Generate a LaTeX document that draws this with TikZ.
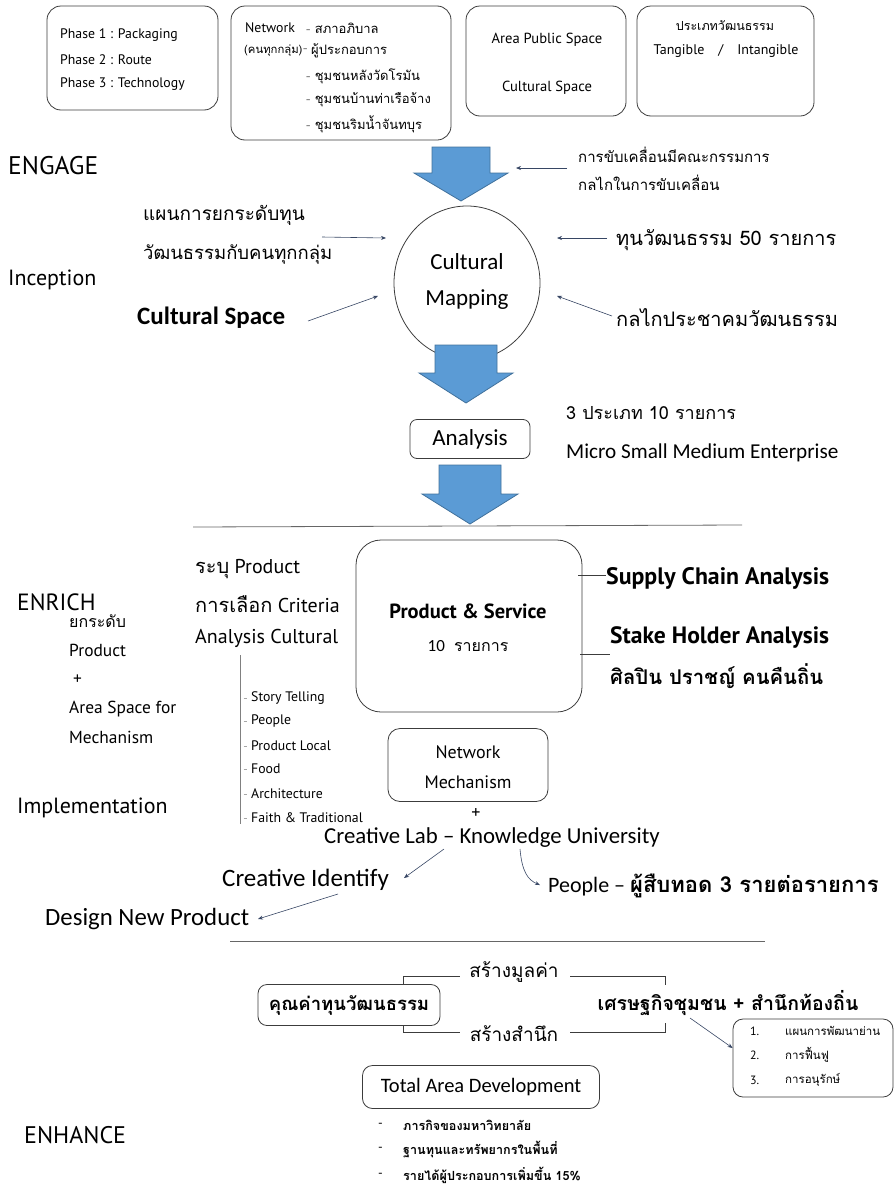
\documentclass[tikz,border=0pt]{standalone}
\usepackage{fontspec}
\setmainfont{Carlito}
\newfontfamily\ptf{PT Sans}
\newfontfamily\thf[Script=Thai]{Loma}
\usetikzlibrary{arrows.meta,shapes.geometric}
\newcommand\fsz[1]{\fontsize{#1}{#1}\selectfont}
\definecolor{arrc}{RGB}{55,70,100}
\definecolor{bluef}{RGB}{91,155,213}
\definecolor{blued}{RGB}{65,113,156}
\definecolor{boxc}{RGB}{60,60,60}
\begin{document}
\begin{tikzpicture}[x=1pt,y=-1pt,
  t/.style={inner sep=0pt,anchor=west},
  tc/.style={inner sep=0pt},
  rbox/.style={draw=boxc,line width=0.8pt,rounded corners=14pt},
  arr/.style={draw=arrc,line width=0.6pt,-{Stealth[length=5pt,width=4pt]}},
  ln/.style={draw=boxc,line width=0.7pt},
  barrow/.style={fill=bluef,draw=blued,line width=0.8pt}]
\useasboundingbox (0,0) rectangle (895,1186);
% ---------- top boxes
\draw[rbox] (47,6) rectangle (218,110);
\node[t,font=\ptf\fsz{13.8}] (p1) at (60,35) {Phase 1 : Packaging};
\node[t,font=\ptf\fsz{13.8}] (p2) at (60,60) {Phase 2 : Route};
\node[t,font=\ptf\fsz{13.8}] (p3) at (60,84) {Phase 3 : Technology};

\draw[rbox] (231,6) rectangle (451,140);
\node[t,font=\ptf\fsz{13.8}] (nw) at (245,28) {Network};
\node[t,font=\thf\fsz{13}] (nw1) at (306,28) {{\color{gray}-} สภาอภิบาล};
\node[t,font=\thf\fsz{11.3}] (nw0) at (244,51) {(คนทุกกลุ่ม)};
\node[t,font=\thf\fsz{13}] (nwd) at (303,51) {{\color{gray}-}};
\node[t,font=\thf\fsz{13}] (nw2) at (311,51) {ผู้ประกอบการ};
\node[t,font=\thf\fsz{13}] (nw3) at (306,76) {{\color{gray}-} ชุมชนหลังวัดโรมัน};
\node[t,font=\thf\fsz{13}] (nw4) at (306,100) {{\color{gray}-} ชุมชนบ้านท่าเรือจ้าง};
\node[t,font=\thf\fsz{13}] (nw5) at (306,124) {{\color{gray}-} ชุมชนริมน้ำจันทบุร};

\draw[rbox] (466,6) rectangle (626,116);
\node[tc,font=\ptf\fsz{14.6}] (aps) at (547,40) {Area Public Space};
\node[tc,font=\ptf\fsz{14.6}] (cs1) at (547,88) {Cultural Space};

\draw[rbox] (637,6) rectangle (814,116);
\node[tc,font=\thf\fsz{12.5}] (ptype) at (725,26) {ประเภทวัฒนธรรม};
\node[tc,font=\ptf\fsz{14}] (tang) at (726,51) {Tangible\quad/\quad Intangible};

% ---------- ENGAGE
\node[t,font=\ptf\fsz{25.5}] (engage) at (8,166) {ENGAGE};
\path[barrow] (432,147) -- (490,147) -- (490,173) -- (508,173) -- (461,201) -- (414,173) -- (432,173) -- cycle;
\coordinate (a1r) at (516,168);
\coordinate (a1s) at (567,168);
\node[t,font=\thf\fsz{15}] (drive1) at (578,155) {การขับเคลื่อนมีคณะกรรมการ};
\node[t,font=\thf\fsz{15}] (drive2) at (578,183) {กลไกในการขับเคลื่อน};
\draw[arr] (a1s) -- (a1r);

% ---------- Cultural Mapping
\node[ellipse,draw=boxc,line width=0.8pt,minimum width=146pt,minimum height=154pt] (cm) at (467,283) {};
\node[tc,font=\fsz{23}] (cm1) at (467,262) {Cultural};
\node[tc,font=\fsz{23}] (cm2) at (467,300) {Mapping};
\coordinate (cmA) at (386,238);
\coordinate (cmB) at (378,296);
\coordinate (cmC) at (557,238);
\coordinate (cmD) at (557,296);

\node[t,font=\thf\fsz{19}] (plan1) at (143,215) {แผนการยกระดับทุน};
\node[t,font=\thf\fsz{18.5}] (plan2) at (143,255) {วัฒนธรรมกับคนทุกกลุ่ม};
\coordinate (pl) at (322,237);
\draw[arr] (pl) -- (cmA);
\node[t,font=\ptf\fsz{22}] (incep) at (8,280) {Inception};
\node[t,font=\bfseries\fsz{25}] (cspace) at (137,318) {Cultural Space};
\coordinate (csA) at (308,321);
\draw[arr] (csA) -- (cmB);
\node[t,font=\thf\fsz{20}] (tun) at (616,240) {ทุนวัฒนธรรม 50 รายการ};
\coordinate (tunA) at (607,238);
\draw[arr] (tunA) -- (cmC);
\node[t,font=\thf\fsz{20}] (klai) at (616,318) {กลไกประชาคมวัฒนธรรม};
\coordinate (klA) at (612,316);
\draw[arr] (klA) -- (cmD);

% ---------- Analysis
\path[barrow] (435,345) -- (497,345) -- (497,373) -- (513,373) -- (466,403) -- (419,373) -- (435,373) -- cycle;
\node[rbox,rounded corners=7pt,minimum width=120pt,minimum height=39pt,font=\fsz{23},inner sep=0pt] (analysis) at (470,439) {Analysis};
\node[t,font=\thf\fsz{18}] (three) at (566,413) {3 ประเภท 10 รายการ};
\node[t,font=\fsz{21.2}] (msme) at (566,453) {Micro Small Medium Enterprise};
\path[barrow] (439,465) -- (501,465) -- (501,494) -- (518,494) -- (470,524) -- (422,494) -- (439,494) -- cycle;
\draw[draw=gray!80!black,line width=0.8pt] (193,527) -- (742,525);

% ---------- ENRICH
\node[rbox,rounded corners=25pt,minimum width=226pt,minimum height=172pt] (ps) at (469,626) {};
\node[tc,font=\ptf\bfseries\fsz{20.5}] (ps1) at (468,611) {Product \& Service};
\node[tc,font=\fsz{17}] (ps2) at (468,646) {10 {\thf\fsz{16} รายการ}};
\node[t,font=\ptf\bfseries\fsz{23.8}] (sca) at (606,578) {Supply Chain Analysis};
\coordinate (sc0) at (578,575);
\draw[ln] (sc0) -- (sc0 -| sca.west);
\node[t,font=\ptf\bfseries\fsz{23.6}] (sha) at (610,637) {Stake Holder Analysis};
\coordinate (sh0) at (580,654);
\draw[ln] (sh0) -- (sh0 -| sha.west);
\node[t,font=\thf\bfseries\fsz{20.3}] (silp) at (610,676) {ศิลปิน ปราชญ์ คนคืนถิ่น};

\node[t,font=\ptf\fsz{23.5}] (enrich) at (17,602) {ENRICH};
\node[t,font=\thf\fsz{16}] (e1) at (69,621) {ยกระดับ};
\node[t,font=\ptf\fsz{17.4}] (e2) at (69,650) {Product};
\node[t,font=\ptf\fsz{17.4}] (e3) at (73,680) {+};
\node[t,font=\ptf\fsz{17.4}] (e4) at (69,709) {Area Space for};
\node[t,font=\ptf\fsz{17.4}] (e5) at (69,737) {Mechanism};
\node[t,font=\ptf\fsz{22}] (impl) at (17,808) {Implementation};

\node[t,font=\ptf\fsz{20}] (r1) at (195,569) {{\thf ระบุ} Product};
\node[t,font=\ptf\fsz{20}] (r2) at (195,604) {{\thf การเลือก} Criteria};
\node[t,font=\ptf\fsz{20}] (r3) at (195,638) {Analysis Cultural};
\draw[draw=gray,line width=0.8pt] (240,655) -- (240,824);
\foreach \n/\y/\s in {l1/698/Story Telling,l2/721/People,l3/746/Product Local,l4/769/Food,l5/794/Architecture,l6/818/Faith \& Traditional}{
  \node[t,font=\ptf\fsz{13.8}] (\n) at (251,\y) {\s};
  \draw[draw=gray!70,line width=0.6pt] (243.5,\y) -- (246.5,\y);
}

\node[rbox,rounded corners=12pt,minimum width=160pt,minimum height=73pt] (nm) at (468,765) {};
\node[tc,font=\ptf\fsz{18}] (nm1) at (468,752) {Network};
\node[tc,font=\ptf\fsz{18}] (nm2) at (468,782) {Mechanism};
\node[tc,font=\ptf\fsz{18}] (plus) at (476,813) {+};
\node[tc,font=\fsz{22.8}] (lab) at (492,838) {Creative Lab – Knowledge University};
\node[t,font=\fsz{25}] (cid) at (222,880) {Creative Identify};
\node[t,font=\fsz{22}] (ppl) at (548,886) {People – {\thf\bfseries ผู้สืบทอด 3 รายต่อรายการ}};
\node[t,font=\fsz{24.8}] (dnp) at (45,919) {Design New Product};
\coordinate (lab1) at (444,849);
\coordinate (lab2) at (520,849);
\coordinate (cidT) at (404,878);
\coordinate (pplT) at (540,885);
\draw[arr] (lab1) -- (cidT);
\draw[arr] (lab2) .. controls (522,872) and (528,880) .. (pplT);
\coordinate (cid1) at (338,894);
\coordinate (dnpT) at (258,919);
\draw[arr] (cid1) -- (dnpT);
\draw[draw=gray!80!black,line width=0.8pt] (230,941) -- (765,941);

% ---------- ENHANCE
\node[rbox,rounded corners=9pt,minimum width=182pt,minimum height=41pt,inner sep=0pt,font=\thf\bfseries\fsz{18.5}] (kv) at (349,1005) {คุณค่าทุนวัฒนธรรม};
\node[tc,font=\thf\fsz{19}] (smv) at (514,972) {สร้างมูลค่า};
\node[tc,font=\thf\fsz{19}] (ssn) at (514,1034) {สร้างสำนึก};
\draw[ln] (403,985) -- (403,976) -- (460,976);
\draw[ln] (570,976) -- (665,976) -- (665,985);
\draw[ln] (403,1026) -- (403,1032) -- (460,1032);
\draw[ln] (570,1032) -- (665,1032) -- (665,1023);
\node[tc,font=\thf\bfseries\fsz{19.5}] (econ) at (728,1003) {เศรษฐกิจชุมชน + สำนึกท้องถิ่น};
\node[rbox,rounded corners=10pt,minimum width=160pt,minimum height=78pt] (lst) at (813,1058) {};
\foreach \n/\y/\s in {1/1031/แผนการพัฒนาย่าน,2/1055/การฟื้นฟู,3/1080/การอนุรักษ์}{
  \node[t,font=\ptf\fsz{12}] (ln\n) at (750,\y) {\n.};
  \node[t,font=\thf\fsz{11.5}] (lt\n) at (785,\y) {\s};
}
\coordinate (ec1) at (690,1018);
\draw[arr] (ec1) -- (lst.west |- 0,1048);
\node[rbox,rounded corners=10pt,minimum width=237pt,minimum height=43pt,inner sep=0pt,font=\fsz{20.5}] (tad) at (481,1087) {Total Area Development};
\node[t,font=\ptf\fsz{24}] (enh) at (24,1135) {ENHANCE};
\foreach \n/\y/\s in {1/1125/ภารกิจของมหาวิทยาลัย,2/1149/ฐานทุนและทรัพยากรในพื้นที่,3/1175/รายได้ผู้ประกอบการเพิ่มขึ้น 15\%}{
  \node[t,font=\ptf\fsz{13}] (bd\n) at (378,\y) {-};
  \node[t,font=\thf\bfseries\fsz{12.6}] (bt\n) at (403,\y) {\s};
}
\end{tikzpicture}
\end{document}
